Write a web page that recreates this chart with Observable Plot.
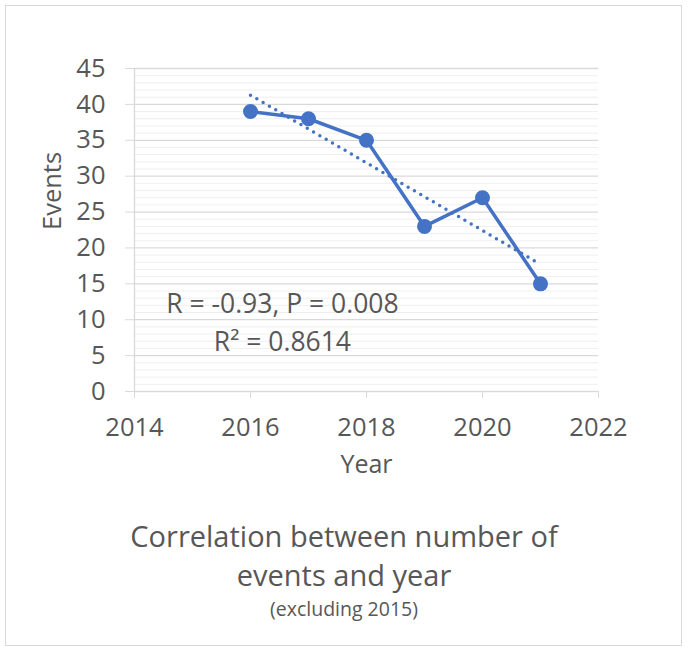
<!DOCTYPE html>
<html><head><meta charset="utf-8">
<script src="https://cdn.jsdelivr.net/npm/d3@7"></script>
<script src="https://cdn.jsdelivr.net/npm/@observablehq/plot@0.6"></script>
<style>
body{margin:0;background:#fff;font-family:"Open Sans",sans-serif;}
#frame{position:absolute;left:5px;top:5px;width:675px;height:639px;border:1.5px solid #d9d9d9;}
#chart{position:absolute;left:0;top:0;}
.t{position:absolute;left:0;width:688px;text-align:center;color:#575757;white-space:nowrap;}
#t1{top:516px;font-size:29px;line-height:40px;}
#t2{top:555px;font-size:29px;line-height:40px;}
#sub{top:595px;font-size:19.5px;line-height:27px;}
</style></head>
<body>
<div id="frame"></div>
<div id="chart"></div>
<div class="t" id="t1">Correlation between number of</div>
<div class="t" id="t2">events and year</div>
<div class="t" id="sub">(excluding 2015)</div>
<script>
const years = [2016, 2017, 2018, 2019, 2020, 2021];
const events = [39, 38, 35, 23, 27, 15];
const xTicks = [2014, 2016, 2018, 2020, 2022];
const yTicks = [0, 5, 10, 15, 20, 25, 30, 35, 40, 45];
const yMinor = [1,2,3,4,6,7,8,9,11,12,13,14,16,17,18,19,21,22,23,24,26,27,28,29,31,32,33,34,36,37,38,39,41,42,43,44];
const noteText = ["R = -0.93, P = 0.008", "R² = 0.8614"];
const noteX = [2016.55, 2016.55];
const noteY = [12.1, 6.8];

const data = years.map((y, i) => ({year: y, events: events[i]}));
const notes = noteText.map((t, i) => ({t, x: noteX[i], y: noteY[i]}));
const blue = "#4472C4", grey = "#575757";

const chart = Plot.plot({
  width: 688, height: 500,
  marginLeft: 134, marginRight: 90, marginTop: 68, marginBottom: 109,
  x: {domain: [2014, 2022]},
  y: {domain: [0, 45]},
  style: {fontFamily: "'Open Sans', sans-serif", color: grey, background: "transparent"},
  marks: [
    Plot.ruleY(yMinor, {stroke: "#efefef", strokeWidth: 1}),
    Plot.ruleY(yTicks, {stroke: "#d9d9d9", strokeWidth: 1.3}),
    Plot.ruleX([2014], {stroke: "#d9d9d9", strokeWidth: 1.3}),
    Plot.axisY({ticks: yTicks, tickSize: 9, tickPadding: 20, stroke: "#d9d9d9", fill: grey, fontSize: 25.5, label: null}),
    Plot.axisX({ticks: xTicks, tickSize: 7, tickPadding: 19, stroke: "#d9d9d9", fill: grey, fontSize: 25.5, tickFormat: d => String(d), label: null}),
    Plot.text(["Year"], {frameAnchor: "bottom", dy: 81, fontSize: 25, fill: grey}),
    Plot.text(["Events"], {frameAnchor: "left", dx: -82, rotate: -90, fontSize: 25.5, fill: grey}),
    Plot.linearRegressionY(data, {x: "year", y: "events", ci: 0, stroke: blue, strokeWidth: 3.5, strokeLinecap: "round", strokeDasharray: "0,7.3"}),
    Plot.line(data, {x: "year", y: "events", stroke: blue, strokeWidth: 3.5}),
    Plot.dot(data, {x: "year", y: "events", r: 7.5, fill: blue, stroke: "none"}),
    Plot.text(notes, {x: "x", y: "y", text: "t", fontSize: 26.5, fill: grey})
  ]
});
document.getElementById("chart").appendChild(chart);
</script>
</body></html>
